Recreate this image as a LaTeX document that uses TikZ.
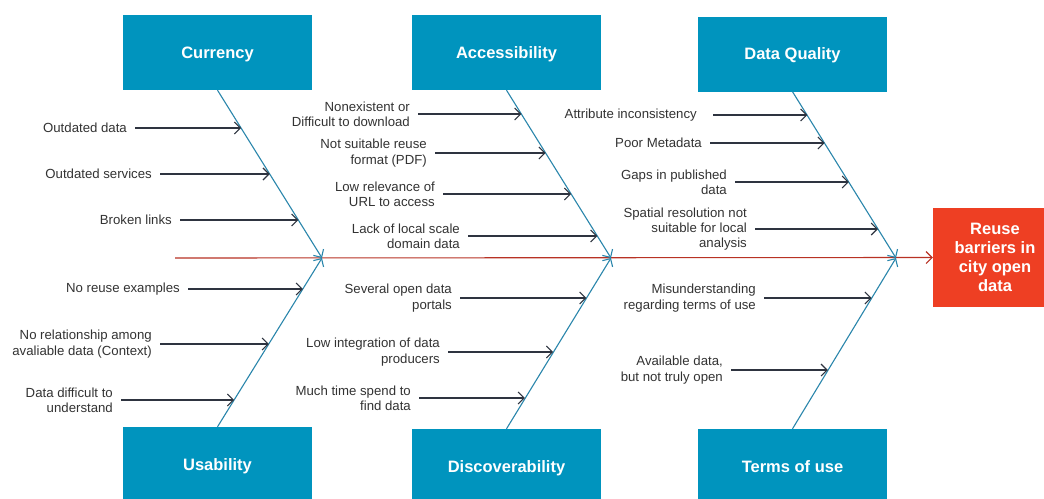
\documentclass[tikz,border=0pt]{standalone}
\usepackage{fontspec}
\setmainfont{Liberation Sans}
\usetikzlibrary{arrows.meta}
\definecolor{boxblue}{HTML}{0094BE}
\definecolor{effred}{HTML}{EE3F23}
\definecolor{spinered}{HTML}{B83224}
\definecolor{bonecol}{HTML}{2A86AC}
\definecolor{subcol}{HTML}{2E3440}
\definecolor{txtcol}{HTML}{333333}
\begin{document}
\begin{tikzpicture}[x=1pt,y=-1pt,
  catbox/.style={fill=boxblue,draw=none,minimum width=189pt,minimum height=75pt,inner sep=0pt,
    text height=11.8pt,text depth=0pt,
    text=white,font=\bfseries\fontsize{16.5}{19}\selectfont},
  effbox/.style={fill=effred,draw=none,minimum width=124pt,minimum height=99pt,inner sep=0pt,
    text=white,align=center,font=\bfseries\fontsize{16.5}{19}\selectfont},
  lbl/.style={anchor=east,inner sep=0pt,align=right,text=txtcol,font=\fontsize{13.2}{15.3}\selectfont},
  bone/.style={draw=bonecol,line width=1.1pt,-{Straight Barb[length=6pt,width=12pt,line width=1.1pt]}},
  sub/.style={draw=subcol,line width=1.1pt,shorten <=8pt,-{Straight Barb[length=6pt,width=12pt,line width=1.1pt]}},
  spine/.style={draw=spinered,line width=1.1pt,-{Straight Barb[length=6pt,width=12pt,line width=1.1pt]}}
]
\useasboundingbox (0,0) rectangle (1044,498);
\fill[white] (0,0) rectangle (1044,498);

% category boxes
\node[catbox] (cur) at (217.5,52.5) {Currency};
\node[catbox] (acc) at (506.5,52.5) {Accessibility};
\node[catbox] (dq)  at (792.5,54) {Data Quality};
\node[catbox] (usa) at (217.5,464.5) {Usability};
\node[catbox] (dis) at (506.5,466.5) {Discoverability};
\node[catbox] (tou) at (792.5,466.5) {Terms of use};
\node[effbox] (eff) at (995,257.5) {Reuse\\barriers in\\city open\\data};

% spine
\coordinate (S0) at (175,258);
\coordinate (J1) at (322,258);
\coordinate (J2) at (611,258);
\coordinate (J3) at (896,258);
\draw[spine] (S0) -- (eff.west);

% bones
\draw[bone] (cur.south) -- (J1);
\draw[bone] (usa.north) -- (J1);
\draw[bone] (acc.south) -- (J2);
\draw[bone] (dis.north) -- (J2);
\draw[bone] (dq.south) -- (J3);
\draw[bone] (tou.north) -- (J3);

% points on bones
\path (cur.south) -- (J1) coordinate[pos=0.226] (c1) coordinate[pos=0.5] (c2) coordinate[pos=0.774] (c3);
\path (usa.north) -- (J1) coordinate[pos=0.817] (u1) coordinate[pos=0.491] (u2) coordinate[pos=0.160] (u3);
\path (acc.south) -- (J2) coordinate[pos=0.143] (a1) coordinate[pos=0.375] (a2) coordinate[pos=0.619] (a3) coordinate[pos=0.869] (a4);
\path (dis.north) -- (J2) coordinate[pos=0.765] (d1) coordinate[pos=0.447] (d2) coordinate[pos=0.176] (d3);
\path (dq.south) -- (J3) coordinate[pos=0.144] (q1) coordinate[pos=0.311] (q2) coordinate[pos=0.545] (q3) coordinate[pos=0.826] (q4);
\path (tou.north) -- (J3) coordinate[pos=0.765] (t1) coordinate[pos=0.341] (t2);

% Currency
\node[lbl] (lc1) at (127,128) {Outdated data};
\node[lbl] (lc2) at (152,174) {Outdated services};
\node[lbl] (lc3) at (172,220) {Broken links};
\draw[sub] (lc1.east) -- (lc1.east -| c1);
\draw[sub] (lc2.east) -- (lc2.east -| c2);
\draw[sub] (lc3.east) -- (lc3.east -| c3);

% Usability
\node[lbl] (lu1) at (180,289) {No reuse examples};
\node[lbl] (lu2) at (152,344) {No relationship among\\avaliable data (Context)};
\node[lbl] (lu3) at (113,400) {Data difficult to\\understand};
\draw[sub] (lu1.east) -- (lu1.east -| u1);
\draw[sub] (lu2.east) -- (lu2.east -| u2);
\draw[sub] (lu3.east) -- (lu3.east -| u3);

% Accessibility
\node[lbl] (la1) at (410,114) {Nonexistent or\\Difficult to download};
\node[lbl] (la2) at (427,153) {Not suitable reuse\\format (PDF)};
\node[lbl] (la3) at (435,194) {Low relevance of\\URL to access};
\node[lbl] (la4) at (460,236) {Lack of local scale\\domain data};
\draw[sub] (la1.east) -- (la1.east -| a1);
\draw[sub] (la2.east) -- (la2.east -| a2);
\draw[sub] (la3.east) -- (la3.east -| a3);
\draw[sub] (la4.east) -- (la4.east -| a4);

% Discoverability
\node[lbl] (ld1) at (452,298) {Several open data\\portals};
\node[lbl] (ld2) at (440,352) {Low integration of data\\producers};
\node[lbl] (ld3) at (411,398) {Much time spend to\\find data};
\draw[sub] (ld1.east) -- (ld1.east -| d1);
\draw[sub] (ld2.east) -- (ld2.east -| d2);
\draw[sub] (ld3.east) -- (ld3.east -| d3);

% Data Quality
\node[lbl] (lq1) at (697,115) {Attribute inconsistency};
\node[lbl] (lq2) at (702,143) {Poor Metadata};
\node[lbl] (lq3) at (727,182) {Gaps in published\\data};
\node[lbl] (lq4) at (747,229) {Spatial resolution not\\suitable for local\\analysis};
\draw[sub,shorten <=16pt] (lq1.east) -- (lq1.east -| q1);
\draw[sub] (lq2.east) -- (lq2.east -| q2);
\draw[sub] (lq3.east) -- (lq3.east -| q3);
\draw[sub] (lq4.east) -- (lq4.east -| q4);

% Terms of use
\node[lbl] (lt1) at (756,298) {Misunderstanding\\regarding terms of use};
\node[lbl] (lt2) at (723,370) {Available data,\\but not truly open};
\draw[sub] (lt1.east) -- (lt1.east -| t1);
\draw[sub] (lt2.east) -- (lt2.east -| t2);
\end{tikzpicture}
\end{document}
